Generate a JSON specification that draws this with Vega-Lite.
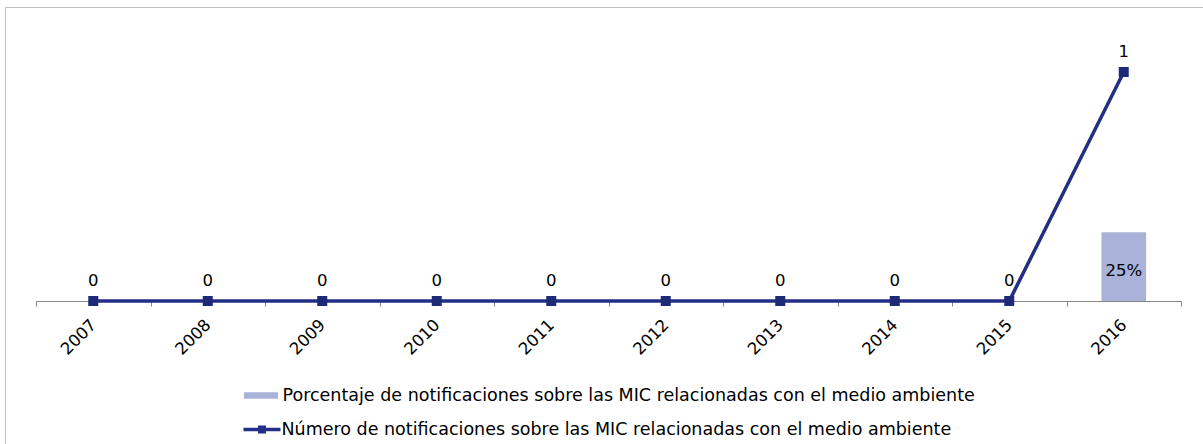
{
  "$schema": "https://vega.github.io/schema/vega-lite/v6.json",
  "width": 1198,
  "height": 437,
  "autosize": {"type": "none"},
  "padding": {"left": 5, "top": 7, "right": 0, "bottom": 0},
  "background": "white",
  "config": {
    "font": "DejaVu Sans",
    "view": {"stroke": "#bfbfbf", "strokeWidth": 1, "strokeDash": [1198, 1635, 437]}
  },
  "data": {
    "values": [
      {"anio": "2007", "numero": 0, "porcentaje": null},
      {"anio": "2008", "numero": 0, "porcentaje": null},
      {"anio": "2009", "numero": 0, "porcentaje": null},
      {"anio": "2010", "numero": 0, "porcentaje": null},
      {"anio": "2011", "numero": 0, "porcentaje": null},
      {"anio": "2012", "numero": 0, "porcentaje": null},
      {"anio": "2013", "numero": 0, "porcentaje": null},
      {"anio": "2014", "numero": 0, "porcentaje": null},
      {"anio": "2015", "numero": 0, "porcentaje": null},
      {"anio": "2016", "numero": 1, "porcentaje": 0.25}
    ]
  },
  "encoding": {
    "x": {
      "field": "anio",
      "type": "ordinal",
      "scale": {"range": [31, 1176], "paddingInner": 0, "paddingOuter": 0},
      "axis": {
        "title": null,
        "labelAngle": -45,
        "labelAlign": "right",
        "labelBaseline": "middle",
        "labelFontSize": 16.5,
        "labelFont": "DejaVu Sans",
        "labelColor": "#000000",
        "labelPadding": 16,
        "tickSize": 5,
        "tickColor": "#868686",
        "domainColor": "#868686",
        "tickBand": "extent",
        "offset": -143,
        "grid": false
      }
    }
  },
  "layer": [
    {
      "mark": {"type": "bar", "width": {"band": 0.39}, "clip": false},
      "encoding": {
        "y": {"field": "porcentaje", "type": "quantitative", "scale": {"domain": [0, 1], "range": [294, 19]}, "axis": null},
        "fill": {
          "datum": "Porcentaje de notificaciones sobre las MIC relacionadas con el medio ambiente",
          "type": "nominal",
          "scale": {"range": ["#a9b3d9"]},
          "legend": {
            "title": null,
            "orient": "none",
            "legendX": 237.5,
            "legendY": 370,
            "symbolType": "M-0.92,-0.18H0.92V0.18H-0.92Z",
            "symbolSize": 1369,
            "symbolStrokeWidth": 0,
            "labelFontSize": 17.5,
            "labelFont": "DejaVu Sans",
            "labelColor": "#000000",
            "labelOffset": 3,
            "labelLimit": 0
          }
        }
      }
    },
    {
      "transform": [{"filter": "datum.porcentaje > 0"}],
      "mark": {"type": "text", "dy": 38.5, "fontSize": 16.5, "color": "#000000", "baseline": "middle"},
      "encoding": {
        "y": {"field": "porcentaje", "type": "quantitative", "scale": {"domain": [0, 1], "range": [294, 19]}, "axis": null},
        "text": {"field": "porcentaje", "type": "quantitative", "format": ".0%"}
      }
    },
    {
      "mark": {"type": "line", "strokeWidth": 3.5, "clip": false},
      "encoding": {
        "y": {"field": "numero", "type": "quantitative", "scale": {"domain": [0, 1], "range": [294, 65]}, "axis": null},
        "stroke": {
          "datum": "Número de notificaciones sobre las MIC relacionadas con el medio ambiente",
          "type": "nominal",
          "scale": {"range": ["#232f84"]},
          "legend": {
            "title": null,
            "orient": "none",
            "legendX": 236.5,
            "legendY": 402,
            "symbolType": "M-1,0H1M-0.12,-0.12H0.12V0.12H-0.12Z",
            "symbolSize": 1369,
            "symbolStrokeWidth": 3.5,
            "symbolFillColor": "#232f84",
            "labelFontSize": 17.5,
            "labelFont": "DejaVu Sans",
            "labelColor": "#000000",
            "labelOffset": -1,
            "labelLimit": 0
          }
        }
      }
    },
    {
      "mark": {"type": "point", "shape": "square", "filled": true, "size": 100, "color": "#1e2a78", "opacity": 1, "clip": false},
      "encoding": {
        "y": {"field": "numero", "type": "quantitative", "scale": {"domain": [0, 1], "range": [294, 65]}, "axis": null}
      }
    },
    {
      "mark": {"type": "text", "dy": -20, "fontSize": 16.5, "color": "#000000", "baseline": "middle"},
      "encoding": {
        "y": {"field": "numero", "type": "quantitative", "scale": {"domain": [0, 1], "range": [294, 65]}, "axis": null},
        "text": {"field": "numero", "type": "quantitative"}
      }
    }
  ],
  "resolve": {"scale": {"y": "independent", "fill": "independent", "stroke": "independent"}}
}
